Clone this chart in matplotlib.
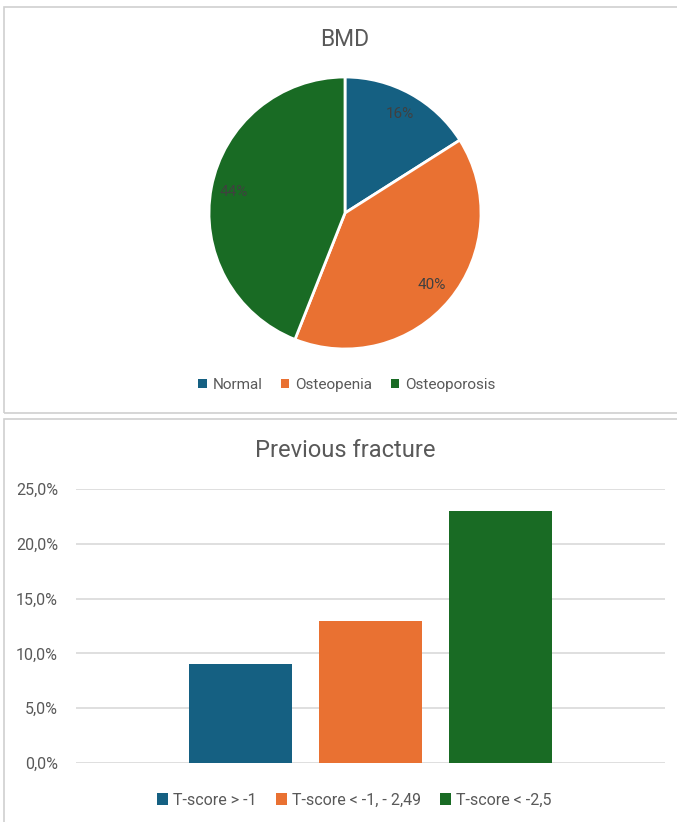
import matplotlib
matplotlib.use("Agg")
import matplotlib.pyplot as plt
from matplotlib.patches import Rectangle, Patch
from matplotlib.ticker import FuncFormatter

plt.rcParams['font.family'] = ['Roboto', 'DejaVu Sans']

# Data
pie_title = "BMD"
pie_labels = ["Normal", "Osteopenia", "Osteoporosis"]
pie_values = [16, 40, 44]

bar_title = "Previous fracture"
bar_labels = ["T-score > -1", "T-score < -1, - 2,49", "T-score < -2,5"]
bar_values = [0.09, 0.13, 0.23]
y_ticks = [0.0, 0.05, 0.10, 0.15, 0.20, 0.25]

colors = ["#156082", "#E97132", "#196B24"]
text_gray = "#595959"
grid_gray = "#D9D9D9"

W, H = 677, 822
fig = plt.figure(figsize=(W / 100, H / 100), dpi=100)

def fx(px):
    return px / W

def fy(py):
    return 1 - py / H

# Panel borders
fig.patches.append(Rectangle((fx(4), fy(413)), fx(680) - fx(4), fy(7) - fy(413),
                             transform=fig.transFigure, fill=False,
                             edgecolor="#D0D0D0", linewidth=1.2))
fig.patches.append(Rectangle((fx(4), fy(830)), fx(680) - fx(4), fy(419) - fy(830),
                             transform=fig.transFigure, fill=False,
                             edgecolor="#D0D0D0", linewidth=1.2))

# Pie chart
axp = fig.add_axes([fx(209), fy(349), fx(481) - fx(209), fy(77) - fy(349)])
wedges, texts, autotexts = axp.pie(
    pie_values, colors=colors, startangle=90, counterclock=False,
    autopct=lambda p: f"{p:.0f}%", pctdistance=0.83,
    wedgeprops=dict(edgecolor="white", linewidth=2),
    textprops=dict(color="#404040", fontsize=11))
axp.set_xlim(-1, 1)
axp.set_ylim(-1, 1)
axp.set_aspect("equal")
axp.axis("off")

fig.text(fx(345), fy(40), pie_title, ha="center", va="center",
         fontsize=16.5, color=text_gray)

handles = [Patch(facecolor=c, edgecolor="none") for c in colors]
fig.legend(handles, pie_labels, loc="center", bbox_to_anchor=(fx(347), fy(385)),
           ncol=3, frameon=False, fontsize=11, labelcolor=text_gray,
           handlelength=0.55, handleheight=0.55, handletextpad=0.4,
           columnspacing=1.2)

# Bar chart
axb = fig.add_axes([fx(76), fy(763), fx(665) - fx(76), fy(489) - fy(763)])
xs = list(range(len(bar_values)))
axb.bar(xs, bar_values, width=0.79, color=colors, zorder=3)
axb.set_xlim(1 - 2.265, 1 + 2.265)
axb.set_ylim(0, 0.25)
axb.set_yticks(y_ticks)
axb.yaxis.set_major_formatter(FuncFormatter(lambda v, p: f"{v*100:.1f}%".replace(".", ",")))
axb.set_xticks([])
axb.grid(axis="y", color=grid_gray, linewidth=1.2, zorder=0)
for s in axb.spines.values():
    s.set_visible(False)
axb.tick_params(axis="y", length=0, labelsize=11.5, labelcolor=text_gray, pad=13)

fig.text(fx(345), fy(450), bar_title, ha="center", va="center",
         fontsize=17, color=text_gray)

fig.legend(handles, bar_labels, loc="center", bbox_to_anchor=(fx(354), fy(800)),
           ncol=3, frameon=False, fontsize=11.5, labelcolor=text_gray,
           handlelength=0.7, handleheight=0.7, handletextpad=0.3,
           columnspacing=1.2)

fig.savefig("out.png", dpi=100, facecolor="white")
